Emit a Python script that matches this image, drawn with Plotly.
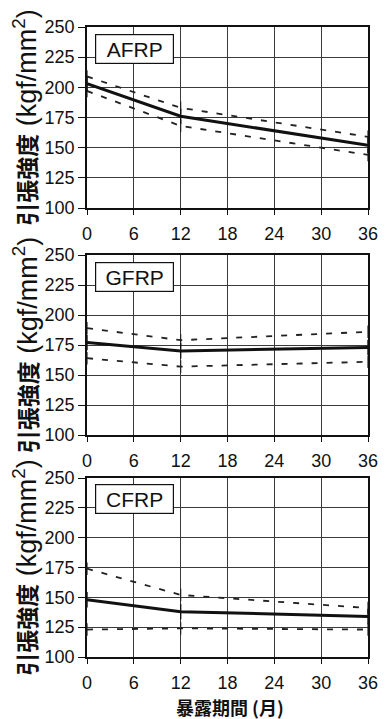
import plotly.graph_objects as go
from plotly.subplots import make_subplots

# Exposure period (months)
months = [0, 12, 36]
x_ticks = [0, 6, 12, 18, 24, 30, 36]

materials = ["AFRP", "GFRP", "CFRP"]

# Tensile strength (kgf/mm^2): mean and upper / lower band
afrp_mean = [203, 176, 152]
afrp_upper = [209, 183, 159]
afrp_lower = [197, 168, 144]

gfrp_mean = [177, 170, 173]
gfrp_upper = [189, 179, 186]
gfrp_lower = [164, 157, 161]

cfrp_mean = [148, 138, 134]
cfrp_upper = [174, 152, 141]
cfrp_lower = [123, 124, 123]

series = [
    (afrp_mean, afrp_upper, afrp_lower),
    (gfrp_mean, gfrp_upper, gfrp_lower),
    (cfrp_mean, cfrp_upper, cfrp_lower),
]

W, H = 386, 719
ML, MR, MT, MB = 87, 8, 27, 62
PW = W - ML - MR
PH = H - MT - MB

# panel pixel extents (top, bottom) from the top of the page
panels_px = [(27, 208), (255, 435), (478, 657)]

fig = make_subplots(rows=3, cols=1)

tick_font = dict(family="Liberation Sans, Arial, sans-serif", size=18, color="#111")
ytitle = ('<span style="font-family:\'Noto Sans CJK JP\';font-size:23px;font-weight:bold">引張強度</span>'
          '<span style="font-family:\'Liberation Sans\';font-size:27px"> (kgf/mm<sup>2</sup>)</span>')

for i, (mean, upper, lower) in enumerate(series):
    r = i + 1
    for band in (upper, lower):
        fig.add_trace(go.Scatter(
            x=months, y=band, mode="lines+markers",
            line=dict(color="#222", width=1.8, dash="6px,9px"),
            marker=dict(symbol="line-ns-open", size=9, line=dict(color="#222", width=1.2)),
            cliponaxis=False, showlegend=False, hoverinfo="skip"), row=r, col=1)
    fig.add_trace(go.Scatter(
        x=months, y=mean, mode="lines+markers",
        line=dict(color="#111", width=3),
        marker=dict(symbol="line-ns-open", size=11, line=dict(color="#111", width=1.4)),
        cliponaxis=False, showlegend=False), row=r, col=1)

    top, bot = panels_px[i]
    dom = [(H - MB - bot) / PH, (H - MB - top) / PH]
    xname = "xaxis" if r == 1 else f"xaxis{r}"
    yname = "yaxis" if r == 1 else f"yaxis{r}"
    fig.layout[yname].update(
        domain=dom, range=[100, 250], tickvals=list(range(100, 251, 25)),
        showgrid=True, gridcolor="#3a3a3a", gridwidth=1,
        showline=True, linecolor="#111", linewidth=1.5, mirror=True,
        ticks="outside", ticklen=7, tickcolor="#111", tickfont=tick_font,
        zeroline=False)
    fig.layout[xname].update(
        range=[0, 36], tickvals=x_ticks,
        showgrid=True, gridcolor="#3a3a3a", gridwidth=1,
        showline=True, linecolor="#111", linewidth=1.5, mirror=True,
        ticks="outside", ticklen=5, tickcolor="#111", tickfont=tick_font,
        ticklabelstandoff=4, ticklabeloverflow="allow", zeroline=False)

    xref = "x" if r == 1 else f"x{r}"
    yref = "y" if r == 1 else f"y{r}"
    # material label box
    fig.add_annotation(
        x=6.1, y=232, xref=xref, yref=yref, text=materials[i],
        showarrow=False, font=dict(family="Liberation Sans, Arial, sans-serif", size=21, color="#111"),
        bgcolor="white", bordercolor="#111", borderwidth=1.2, borderpad=1,
        width=75, height=26)
    # y axis title for each panel
    fig.add_annotation(
        x=(23 - ML) / PW, y=(dom[0] + dom[1]) / 2,
        xref="paper", yref="paper", text=ytitle, textangle=-90,
        showarrow=False, xanchor="center", yanchor="middle",
        font=dict(family="Liberation Sans, sans-serif", size=22, color="#111"))

fig.add_annotation(
    x=(235 - ML) / PW, y=-(707 - (H - MB)) / PH,
    xref="paper", yref="paper", text="<b>暴露期間 (月)</b>",
    showarrow=False, xanchor="center", yanchor="middle",
    font=dict(family="Noto Sans CJK JP, sans-serif", size=18, color="#111"))

fig.update_layout(
    width=W, height=H, margin=dict(l=ML, r=MR, t=MT, b=MB),
    paper_bgcolor="white", plot_bgcolor="white", showlegend=False)

fig.write_html("out.html")
